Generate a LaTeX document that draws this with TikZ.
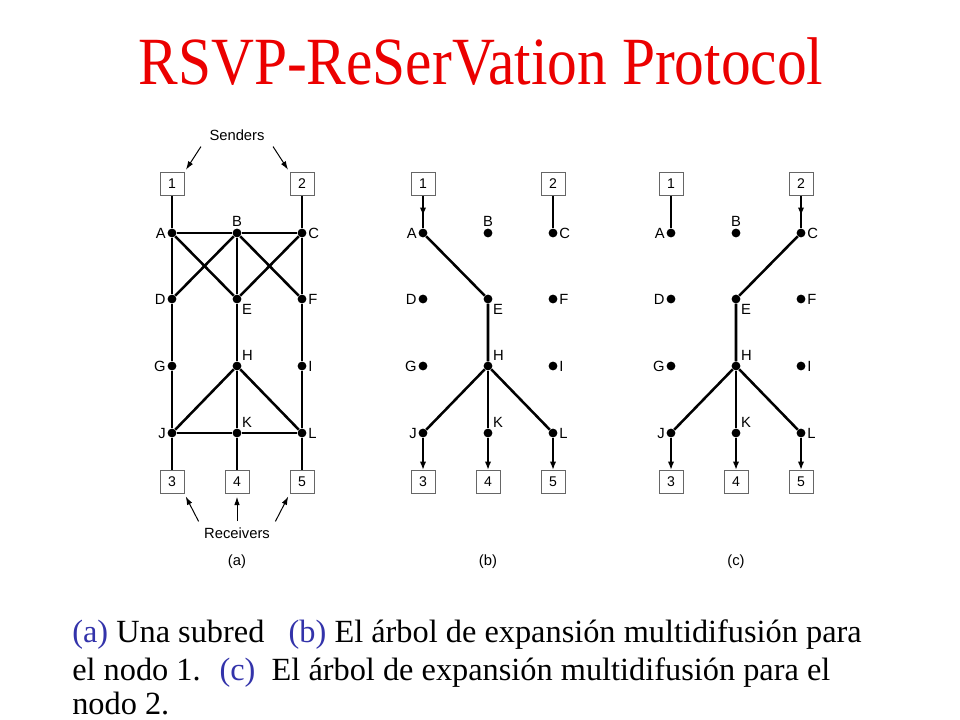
\documentclass[tikz,border=0pt]{standalone}
\usepackage{fontspec}
\setmainfont{Liberation Serif}
\newfontfamily\figfont{Liberation Sans}
\newfontfamily\titlefont[FakeStretch=0.88]{Liberation Serif}
\usetikzlibrary{arrows.meta,decorations.markings}

\definecolor{titlered}{RGB}{235,0,0}
\definecolor{capblue}{RGB}{51,51,170}

\tikzset{
  netdot/.style={circle, fill, inner sep=0pt, minimum size=0.22cm, label distance=2pt},
  numbox/.style={draw=black!60, line width=0.6pt, rectangle, minimum width=0.6cm, minimum height=0.575cm, inner sep=0pt, font=\figfont\fontsize{10}{12}\selectfont},
  link/.style={line width=1.8pt},
  flow/.style={line width=1.8pt, -{Latex[length=6pt,width=4.5pt]}},
  midflow/.style={line width=1.8pt, postaction={decorate}, decoration={markings, mark=at position 0.62 with {\arrow{Latex[length=6pt,width=4.5pt]}}}},
  pointer/.style={line width=0.7pt, -{Latex[length=6pt,width=4pt]}, shorten <=1pt, shorten >=2pt},
  figtext/.style={font=\figfont\fontsize{10.5}{12}\selectfont},
  captext/.style={anchor=base west, inner sep=0pt, font=\fontsize{23}{27}\selectfont},
}

\begin{document}
\begin{tikzpicture}[x=0.025cm, y=-0.025cm, every label/.style={figtext, inner sep=1pt}]
\useasboundingbox (0,0) rectangle (960,720);

% title
\node[anchor=base, text=titlered, font=\titlefont\fontsize{48}{54}\selectfont] at (481,85) (title) {RSVP-ReSerVation Protocol};

% the three nets: dots, boxes, panel letter
\foreach \p/\x in {a/172, b/423, c/671} {
  \foreach \n/\c/\r/\s in {A/0/233/left, B/1/233/above, C/2/233/right, D/0/299/left, E/1/299/below right, F/2/299/right, G/0/366/left, H/1/366/above right, I/2/366/right, J/0/433/left, K/1/433/above right, L/2/433/right}
    \node[netdot, label={\s:\n}] at ({\x+\c*65}, \r) (\p-\n) {};
  \node[numbox] at (\x, 184) (\p-1) {1};
  \node[numbox] at ({\x+130}, 184) (\p-2) {2};
  \node[numbox] at (\x, 482) (\p-3) {3};
  \node[numbox] at ({\x+65}, 482) (\p-4) {4};
  \node[numbox] at ({\x+130}, 482) (\p-5) {5};
  \node[figtext] at ({\x+65}, 562) (\p-name) {(\p)};
}

% (a) the subnet
\draw[link] (a-1) -- (a-A) -- (a-D) -- (a-G) -- (a-J) -- (a-3);
\draw[link] (a-2) -- (a-C) -- (a-F) -- (a-I) -- (a-L) -- (a-5);
\draw[link] (a-B) -- (a-E) -- (a-H) -- (a-K) -- (a-4);
\draw[link] (a-A) -- (a-B) -- (a-C);
\draw[link] (a-A) -- (a-E) -- (a-C);
\draw[link] (a-D) -- (a-B) -- (a-F);
\draw[link] (a-J) -- (a-H) -- (a-L);
\draw[link] (a-J) -- (a-K) -- (a-L);

% senders and receivers
\node[figtext] at (237,135) (senders) {Senders};
\draw[pointer] ([xshift=-2pt]senders.south west) -- (a-1.north east);
\draw[pointer] ([xshift=2pt]senders.south east) -- (a-2.north west);
\node[figtext] at (237,533) (receivers) {Receivers};
\draw[pointer] (receivers.north west) -- (a-3.south east);
\draw[pointer] (receivers.north) -- (a-4.south);
\draw[pointer] (receivers.north east) -- (a-5.south west);

% (b) tree for node 1
\draw[midflow] (b-1) -- (b-A);
\draw[link] (b-2) -- (b-C);
\draw[link] (b-A) -- (b-E) -- (b-H);
\draw[link] (b-H) -- (b-J);
\draw[link] (b-H) -- (b-K);
\draw[link] (b-H) -- (b-L);
\draw[flow] (b-J) -- (b-3);
\draw[flow] (b-K) -- (b-4);
\draw[flow] (b-L) -- (b-5);

% (c) tree for node 2
\draw[link] (c-1) -- (c-A);
\draw[midflow] (c-2) -- (c-C);
\draw[link] (c-C) -- (c-E) -- (c-H);
\draw[link] (c-H) -- (c-J);
\draw[link] (c-H) -- (c-K);
\draw[link] (c-H) -- (c-L);
\draw[flow] (c-J) -- (c-3);
\draw[flow] (c-K) -- (c-4);
\draw[flow] (c-L) -- (c-5);

% caption
\node[captext] at (72,642) (capline1) {\textcolor{capblue}{(a)} Una subred \ \ \textcolor{capblue}{(b)} El árbol de expansión multidifusión para};
\node[captext] at (72,680) (capline2) {el nodo 1. \ \textcolor{capblue}{(c)} \ El árbol de expansión multidifusión para el};
\node[captext] at (72,714) (capline3) {nodo 2.};

\end{tikzpicture}
\end{document}
